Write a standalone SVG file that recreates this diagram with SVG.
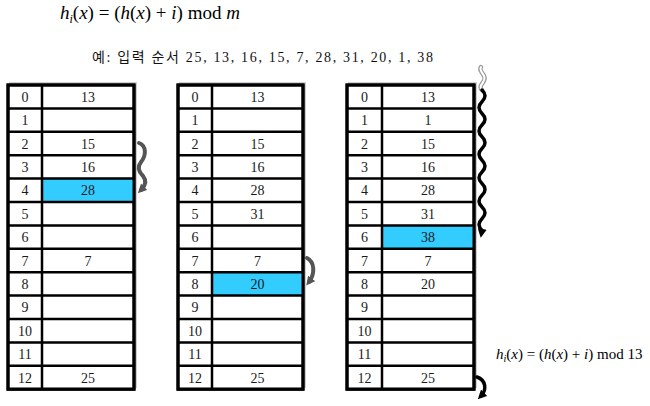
<svg xmlns="http://www.w3.org/2000/svg" width="650" height="406" viewBox="0 0 650 406">
<style>
.frame{fill:#fff;stroke:#000;stroke-width:3}
.grid{stroke:#000;stroke-width:2.5;fill:none}
.shadow{stroke:#cfcfcf;stroke-width:2;fill:none}
.hl{fill:#33CCFF}
.num{font-family:"Liberation Serif","Noto Sans CJK KR",serif;font-size:14px;fill:#1a1a1a;text-anchor:middle}
.f{font-family:"Liberation Serif",serif;fill:#000}
.it{font-style:italic}
.kr{font-family:"Liberation Serif","Noto Sans CJK KR",sans-serif;font-size:14px;fill:#111}
.wb{fill:none;stroke:#000;stroke-width:3.5;stroke-linecap:round}
.wg{fill:none;stroke:#555;stroke-width:4;stroke-linecap:round}
.wgi{fill:none;stroke:#8a8a8a;stroke-width:2;stroke-linecap:round}
</style>
<defs>
<marker id="mb" viewBox="0 0 10 10" refX="5" refY="5" markerWidth="9" markerHeight="9" markerUnits="userSpaceOnUse" orient="auto">
<path d="M0,0 L10,5 L0,10 z" fill="#000"/>
</marker>
<marker id="mg" viewBox="0 0 10 10" refX="5" refY="5" markerWidth="9" markerHeight="9" markerUnits="userSpaceOnUse" orient="auto">
<path d="M0,0 L10,5 L0,10 z" fill="#555"/>
</marker>
</defs>

<g id="title">
<text class="f" x="60" y="19" font-size="19"><tspan class="it">h</tspan><tspan class="it" font-size="12" dy="4">i</tspan><tspan dy="-4">(</tspan><tspan class="it">x</tspan><tspan>) = (</tspan><tspan class="it">h</tspan><tspan>(</tspan><tspan class="it">x</tspan><tspan>) + </tspan><tspan class="it">i</tspan><tspan>) mod </tspan><tspan class="it">m</tspan></text>
</g>
<g id="input-order">
<text class="kr" x="92" y="62" textLength="341" lengthAdjust="spacing">예: 입력 순서 25, 13, 16, 15, 7, 28, 31, 20, 1, 38</text>
</g>
<g id="formula13">
<text class="f" x="496" y="359" font-size="15"><tspan class="it">h</tspan><tspan class="it" font-size="10" dy="3">i</tspan><tspan dy="-3">(</tspan><tspan class="it">x</tspan><tspan>) = (</tspan><tspan class="it">h</tspan><tspan>(</tspan><tspan class="it">x</tspan><tspan>) + </tspan><tspan class="it">i</tspan><tspan>) mod 13</tspan></text>
</g>

<!-- Table 1 -->
<g id="table1">
<polyline class="shadow" points="9,83 136,83 136,388"/>
<rect class="frame" x="8" y="85" width="126" height="304.2"/>
<rect class="hl" x="42" y="178.6" width="92" height="23.4"/>
<path class="grid" d="M8 108.4H134M8 131.8H134M8 155.2H134M8 178.6H134M8 202H134M8 225.4H134M8 248.8H134M8 272.2H134M8 295.6H134M8 319H134M8 342.4H134M8 365.8H134M42 85V389.2"/>
<rect x="8" y="85" width="126" height="304.2" fill="none" stroke="#000" stroke-width="3"/>
<text class="num" x="25" y="101.8">0</text>
<text class="num" x="25" y="125.2">1</text>
<text class="num" x="25" y="148.6">2</text>
<text class="num" x="25" y="172">3</text>
<text class="num" x="25" y="195.4">4</text>
<text class="num" x="25" y="218.8">5</text>
<text class="num" x="25" y="242.2">6</text>
<text class="num" x="25" y="265.6">7</text>
<text class="num" x="25" y="289">8</text>
<text class="num" x="25" y="312.4">9</text>
<text class="num" x="25" y="335.8">10</text>
<text class="num" x="25" y="359.2">11</text>
<text class="num" x="25" y="382.6">12</text>
<text class="num" x="88" y="101.8">13</text>
<text class="num" x="88" y="148.6">15</text>
<text class="num" x="88" y="172">16</text>
<text class="num" x="88" y="195.4">28</text>
<text class="num" x="88" y="265.6">7</text>
<text class="num" x="88" y="382.6">25</text>
</g>

<!-- Table 2 -->
<g id="table2">
<polyline class="shadow" points="179,83 305,83 305,388"/>
<rect class="frame" x="178" y="85" width="125" height="304.2"/>
<rect class="hl" x="212" y="272.2" width="91" height="23.4"/>
<path class="grid" d="M178 108.4H303M178 131.8H303M178 155.2H303M178 178.6H303M178 202H303M178 225.4H303M178 248.8H303M178 272.2H303M178 295.6H303M178 319H303M178 342.4H303M178 365.8H303M212 85V389.2"/>
<rect x="178" y="85" width="125" height="304.2" fill="none" stroke="#000" stroke-width="3"/>
<text class="num" x="195" y="101.8">0</text>
<text class="num" x="195" y="125.2">1</text>
<text class="num" x="195" y="148.6">2</text>
<text class="num" x="195" y="172">3</text>
<text class="num" x="195" y="195.4">4</text>
<text class="num" x="195" y="218.8">5</text>
<text class="num" x="195" y="242.2">6</text>
<text class="num" x="195" y="265.6">7</text>
<text class="num" x="195" y="289">8</text>
<text class="num" x="195" y="312.4">9</text>
<text class="num" x="195" y="335.8">10</text>
<text class="num" x="195" y="359.2">11</text>
<text class="num" x="195" y="382.6">12</text>
<text class="num" x="257.5" y="101.8">13</text>
<text class="num" x="257.5" y="148.6">15</text>
<text class="num" x="257.5" y="172">16</text>
<text class="num" x="257.5" y="195.4">28</text>
<text class="num" x="257.5" y="218.8">31</text>
<text class="num" x="257.5" y="265.6">7</text>
<text class="num" x="257.5" y="289">20</text>
<text class="num" x="257.5" y="382.6">25</text>
</g>

<!-- Table 3 -->
<g id="table3">
<polyline class="shadow" points="348,83 476,83 476,388"/>
<rect class="frame" x="347" y="85" width="127" height="304.2"/>
<rect class="hl" x="382" y="225.4" width="92" height="23.4"/>
<path class="grid" d="M347 108.4H474M347 131.8H474M347 155.2H474M347 178.6H474M347 202H474M347 225.4H474M347 248.8H474M347 272.2H474M347 295.6H474M347 319H474M347 342.4H474M347 365.8H474M382 85V389.2"/>
<rect x="347" y="85" width="127" height="304.2" fill="none" stroke="#000" stroke-width="3"/>
<text class="num" x="364.5" y="101.8">0</text>
<text class="num" x="364.5" y="125.2">1</text>
<text class="num" x="364.5" y="148.6">2</text>
<text class="num" x="364.5" y="172">3</text>
<text class="num" x="364.5" y="195.4">4</text>
<text class="num" x="364.5" y="218.8">5</text>
<text class="num" x="364.5" y="242.2">6</text>
<text class="num" x="364.5" y="265.6">7</text>
<text class="num" x="364.5" y="289">8</text>
<text class="num" x="364.5" y="312.4">9</text>
<text class="num" x="364.5" y="335.8">10</text>
<text class="num" x="364.5" y="359.2">11</text>
<text class="num" x="364.5" y="382.6">12</text>
<text class="num" x="428" y="101.8">13</text>
<text class="num" x="428" y="125.2">1</text>
<text class="num" x="428" y="148.6">15</text>
<text class="num" x="428" y="172">16</text>
<text class="num" x="428" y="195.4">28</text>
<text class="num" x="428" y="218.8">31</text>
<text class="num" x="428" y="242.2">38</text>
<text class="num" x="428" y="265.6">7</text>
<text class="num" x="428" y="289">20</text>
<text class="num" x="428" y="382.6">25</text>
</g>

<g id="connectors">
<!-- table 1: 2 -> 3 -> 4 -->
<path class="wg" marker-end="url(#mg)" d="M139 143 C147 146 146 156 141 162 C137 167 139 172 143 176 C147 181 145 186 141 190"/>
<!-- table 2: 7 -> 8 -->
<path class="wg" marker-end="url(#mg)" d="M307 258 C315 262 315 274 309 282"/>
<!-- table 3: wrap 12 -> bottom -->
<path class="wb" marker-end="url(#mb)" d="M477 377 C486 380 487 390 481 396"/>
<!-- table 3: faded wrap-in at top -->
<path fill="none" stroke="#9a9a9a" stroke-width="4.5" stroke-linecap="round" stroke-dasharray="2 1" d="M482 90 C477 85 487 82 484 76 C482 72 479 70 481 67"/>
<path fill="none" stroke="#fff" stroke-width="2" stroke-linecap="round" d="M482 90 C477 85 487 82 484 76 C482 72 479 70 481 67"/>
<!-- table 3: 0 -> ... -> 6 -->
<path class="wb" marker-end="url(#mb)" d="M482 90 q6 5.85 0 11.7 q-6 5.85 0 11.7 q6 5.85 0 11.7 q-6 5.85 0 11.7 q6 5.85 0 11.7 q-6 5.85 0 11.7 q6 5.85 0 11.7 q-6 5.85 0 11.7 q6 5.85 0 11.7 q-6 5.85 0 11.7 q6 5.85 0 11.7 q-6 5.85 0 11.7 l-0.5 3"/>
</g>
</svg>
